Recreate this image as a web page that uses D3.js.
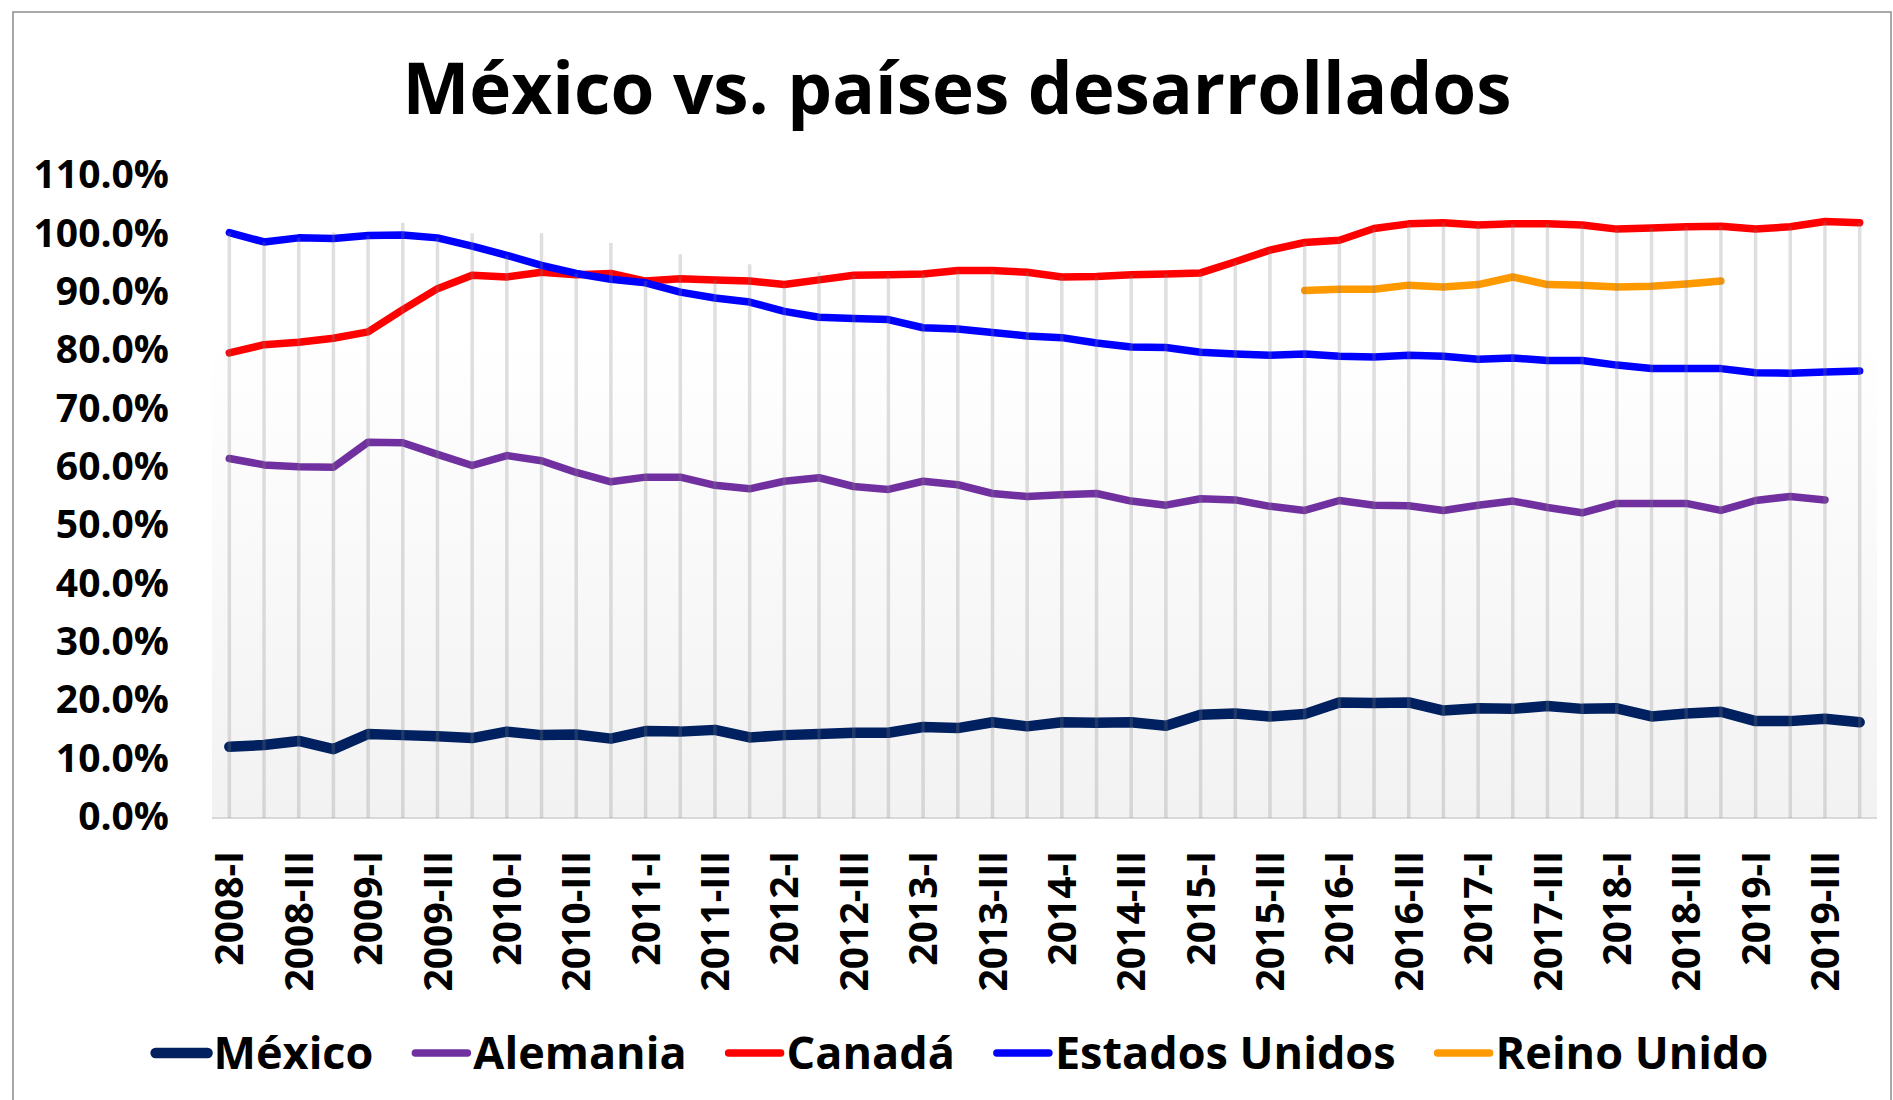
<!DOCTYPE html>
<html>
<head>
<meta charset="utf-8">
<script src="https://cdn.jsdelivr.net/npm/d3@7"></script>
<style>
    body { margin: 0; background: #fff; }
    svg text { font-family: "Open Sans", "Noto Sans", sans-serif; font-weight: 700; fill: #000; }
</style>
</head>
<body>
<svg id="chart" width="1893" height="1100"></svg>
<script>
// Periodos trimestrales 2008-I a 2019-IV
const years = [2008, 2009, 2010, 2011, 2012, 2013, 2014, 2015, 2016, 2017, 2018, 2019];
const quarters = ["I", "II", "III", "IV"];
const periods = years.flatMap(y => quarters.map(q => y + "-" + q));

const yTicks = [0, 0.1, 0.2, 0.3, 0.4, 0.5, 0.6, 0.7, 0.8, 0.9, 1.0, 1.1];

// valores en porcentaje
const mexico = [12.2, 12.5, 13.2, 11.8, 14.4, 14.2, 14.0, 13.7, 14.8, 14.2, 14.3, 13.6,
    14.9, 14.8, 15.1, 13.8, 14.2, 14.4, 14.6, 14.6, 15.6, 15.4, 16.4, 15.7,
    16.4, 16.3, 16.4, 15.8, 17.7, 17.9, 17.4, 17.8, 19.8, 19.7, 19.8, 18.4,
    18.8, 18.7, 19.2, 18.7, 18.8, 17.4, 17.9, 18.2, 16.6, 16.6, 17.0, 16.4];

const alemania = [61.6, 60.5, 60.2, 60.1, 64.4, 64.3, 62.3, 60.4, 62.1, 61.2, 59.2, 57.6,
    58.4, 58.4, 57.0, 56.4, 57.7, 58.3, 56.8, 56.3, 57.7, 57.1, 55.6, 55.1,
    55.4, 55.6, 54.3, 53.6, 54.7, 54.5, 53.4, 52.7, 54.4, 53.6, 53.5, 52.7,
    53.6, 54.3, 53.2, 52.3, 53.9, 53.9, 53.9, 52.7, 54.4, 55.1, 54.5, null];

const canada = [79.7, 81.1, 81.5, 82.2, 83.3, 87.1, 90.7, 93.0, 92.7, 93.5, 93.1, 93.3,
    92.0, 92.4, 92.2, 92.0, 91.4, 92.2, 93.0, 93.1, 93.2, 93.8, 93.8, 93.5,
    92.7, 92.8, 93.1, 93.2, 93.4, 95.3, 97.3, 98.6, 99.0, 101.0, 101.8, 102.0,
    101.6, 101.8, 101.8, 101.6, 100.9, 101.1, 101.3, 101.4, 100.9, 101.3, 102.2, 102.0];

const eeuu = [100.3, 98.7, 99.4, 99.3, 99.8, 99.9, 99.4, 98.0, 96.4, 94.7, 93.3, 92.3,
    91.7, 90.1, 89.1, 88.4, 86.8, 85.8, 85.6, 85.4, 84.0, 83.8, 83.2, 82.6,
    82.3, 81.4, 80.7, 80.6, 79.8, 79.5, 79.3, 79.5, 79.1, 79.0, 79.3, 79.1,
    78.6, 78.8, 78.4, 78.4, 77.6, 77.0, 77.0, 77.0, 76.3, 76.2, 76.4, 76.6];

const reinoUnido = [null, null, null, null, null, null, null, null, null, null, null, null,
    null, null, null, null, null, null, null, null, null, null, null, null,
    null, null, null, null, null, null, null, 90.4, 90.6, 90.6, 91.3, 91.0,
    91.4, 92.7, 91.4, 91.3, 91.0, 91.1, 91.5, 92.0, null, null, null, null];

// altura de las lineas verticales (lineas de unión) por periodo
const topeLineas = [100.3, 98.7, 99.4, 100.3, 99.8, 102.0, 99.4, 100.2, 96.4, 100.2, 93.3, 98.5,
    92.0, 96.6, 92.2, 94.9, 91.4, 93.5, 93.0, 93.1, 93.2, 93.8, 93.8, 93.5,
    92.7, 92.8, 93.1, 93.2, 93.4, 95.3, 97.3, 98.6, 99.0, 101.0, 101.8, 102.0,
    101.6, 101.8, 101.8, 101.6, 100.9, 101.1, 101.3, 101.4, 100.9, 101.3, 102.2, 102.0];

const series = [
    { name: "México", values: mexico, color: "#002060", width: 10.5 },
    { name: "Alemania", values: alemania, color: "#7030A0", width: 7.5 },
    { name: "Canadá", values: canada, color: "#FF0000", width: 7.5 },
    { name: "Estados Unidos", values: eeuu, color: "#0000FF", width: 7.5 },
    { name: "Reino Unido", values: reinoUnido, color: "#FF9900", width: 7.5 }
];

const svg = d3.select("#chart");

// borde del area del grafico
svg.append("rect")
    .attr("x", 13).attr("y", 12)
    .attr("width", 1878).attr("height", 1100)
    .style("fill", "none")
    .style("stroke", "#8c8c8c")
    .style("stroke-width", 1.5);

const plot = { left: 212, right: 1877, top: 176, bottom: 818 };

const x = d3.scalePoint().domain(periods).range([plot.left, plot.right]).padding(0.5);
const y = d3.scaleLinear().domain([0, 1.1]).range([plot.bottom, plot.top]);

// fondo degradado
const defs = svg.append("defs");
const grad = defs.append("linearGradient").attr("id", "fondo")
    .attr("x1", 0).attr("y1", 0).attr("x2", 0).attr("y2", 1);
grad.append("stop").attr("offset", "0%").attr("stop-color", "#ffffff");
grad.append("stop").attr("offset", "25%").attr("stop-color", "#ffffff");
grad.append("stop").attr("offset", "100%").attr("stop-color", "#f2f2f2");

svg.append("rect")
    .attr("x", plot.left).attr("y", plot.top)
    .attr("width", plot.right - plot.left).attr("height", plot.bottom - plot.top)
    .style("fill", "url(#fondo)");

// titulo
svg.append("text")
    .attr("x", 957).attr("y", 114)
    .attr("text-anchor", "middle")
    .style("font-size", "71px")
    .text("México vs. países desarrollados");

// eje y (solo etiquetas)
const yAxis = svg.append("g")
    .attr("transform", "translate(" + (plot.left - 16) + ",0)")
    .call(d3.axisLeft(y).tickValues(yTicks).tickFormat(d3.format(".1%")).tickSize(0).tickPadding(27));
yAxis.select(".domain").remove();
yAxis.selectAll("text")
    .style("font-size", "39px")
    .style("font-family", "'Open Sans', sans-serif")
    .attr("dy", "0.3em");

// linea base
svg.append("line")
    .attr("x1", plot.left).attr("x2", plot.right)
    .attr("y1", plot.bottom).attr("y2", plot.bottom)
    .style("stroke", "#d9d9d9")
    .style("stroke-width", 2);

// lineas de las series
const line = d3.line()
    .defined(d => d !== null)
    .x((d, i) => x(periods[i]))
    .y(d => y(d / 100));

svg.append("g").selectAll("path")
    .data(series)
    .enter()
    .append("path")
    .attr("d", s => line(s.values))
    .style("fill", "none")
    .style("stroke", s => s.color)
    .style("stroke-width", s => s.width)
    .style("stroke-linecap", "round")
    .style("stroke-linejoin", "round");

// lineas verticales semitransparentes por encima de las series
svg.append("g").selectAll("line")
    .data(topeLineas)
    .enter()
    .append("line")
    .attr("x1", (d, i) => x(periods[i]))
    .attr("x2", (d, i) => x(periods[i]))
    .attr("y1", plot.bottom)
    .attr("y2", d => y(d / 100))
    .style("stroke", "#808080")
    .style("stroke-opacity", 0.25)
    .style("stroke-width", 3.5);

// etiquetas del eje x (cada dos trimestres)
svg.append("g").selectAll("text")
    .data(periods.filter((p, i) => i % 2 === 0))
    .enter()
    .append("text")
    .attr("transform", p => "translate(" + x(p) + ",851) rotate(-90)")
    .attr("text-anchor", "end")
    .attr("dy", "0.36em")
    .style("font-size", "39px")
    .text(p => p);

// leyenda
const legend = svg.append("g");
let lx = 0;
series.forEach(s => {
    const item = legend.append("g").attr("transform", "translate(" + lx + ",0)");
    item.append("line")
        .attr("x1", 0).attr("x2", 52)
        .attr("y1", 0).attr("y2", 0)
        .style("stroke", s.color)
        .style("stroke-width", s.width)
        .style("stroke-linecap", "round");
    const t = item.append("text")
        .attr("x", 58).attr("y", 16)
        .style("font-size", "45px")
        .text(s.name);
    lx += 58 + t.node().getComputedTextLength() + 42;
});
const legendWidth = lx - 42;
legend.attr("transform", "translate(" + (962 - legendWidth / 2) + ",1053)");
</script>
</body>
</html>
